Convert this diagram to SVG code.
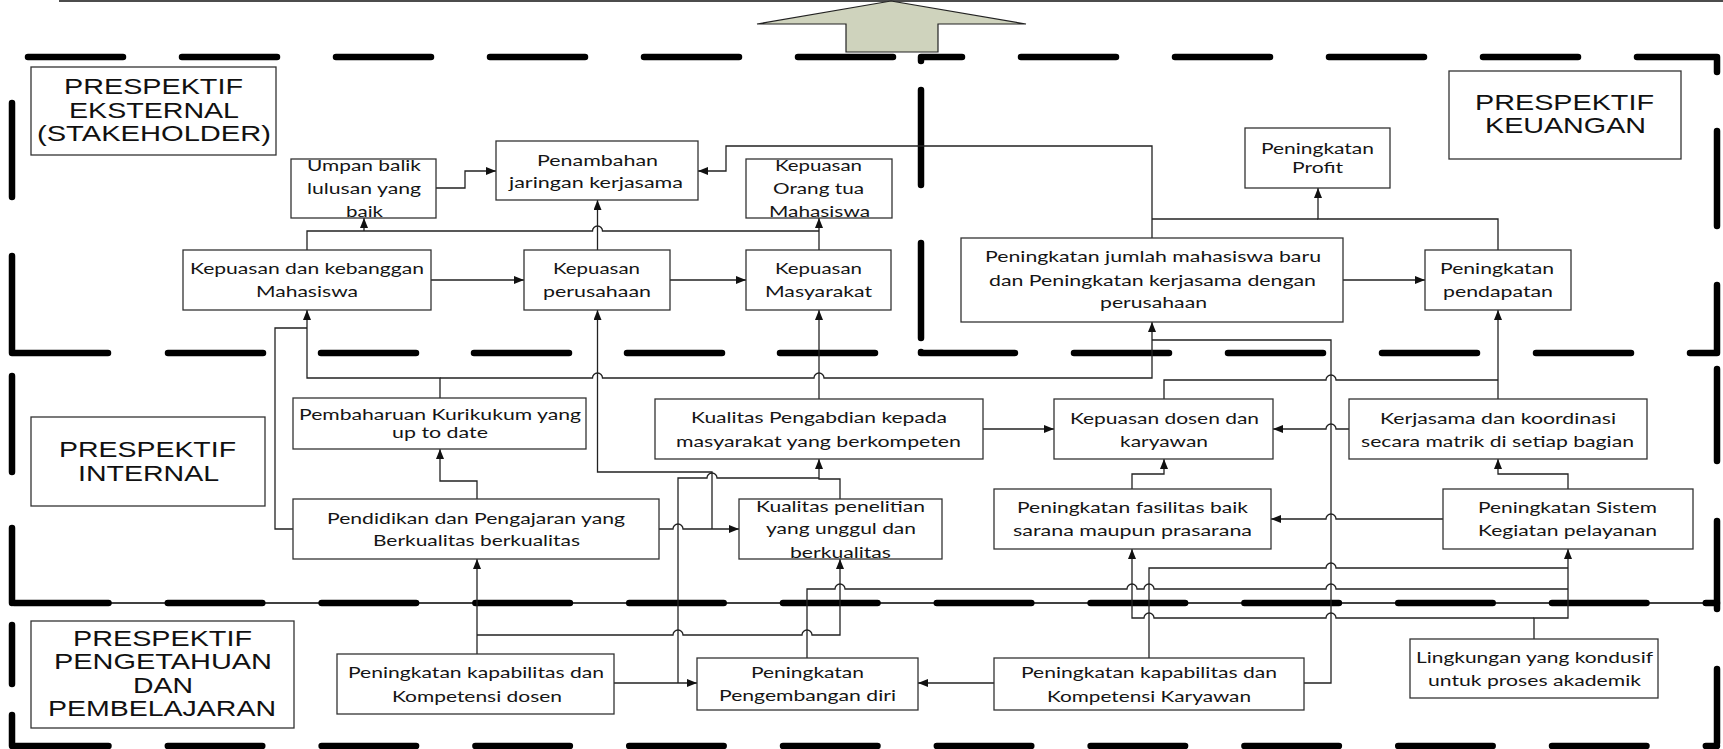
<svg xmlns="http://www.w3.org/2000/svg" width="1723" height="749" viewBox="0 0 1723 749">
  <style>
    .box { fill: none; stroke: #333; stroke-width: 1.3; }
    .t { font-family: Lato, "Liberation Sans", sans-serif; font-size: 15px; fill: #151515; }
    .L { font-family: "Liberation Sans", Arial, sans-serif; font-size: 22px; fill: #111; }
    .c { fill: none; stroke: #222; stroke-width: 1.3; }
    .a { marker-end: url(#ah); }
    .dash { fill: none; stroke: #000; stroke-width: 6.5; stroke-linecap: round; stroke-linejoin: round; }
  </style>
  <defs>
    <marker id="ah" viewBox="0 0 10 8" refX="10" refY="4" markerWidth="10" markerHeight="8" orient="auto" markerUnits="userSpaceOnUse">
      <path d="M0,0 L10,4 L0,8 z" fill="#111"/>
    </marker>
  </defs>

  <rect width="1723" height="749" fill="#fff"/>

  <!-- frame: top rule and the upward arrow -->
  <g id="header">
    <path d="M59,1 H1723" stroke="#111" stroke-width="1.3"/>
    <polygon points="891,1 1026,24 938,24 938,52 846,52 846,24 757,24" fill="#cfd3bd" stroke="#222" stroke-width="1.2"/>
  </g>

  <!-- perspective bands (thick dashed borders) -->
  <g id="bands">
    <path class="dash" d="M28,57 H900" stroke-dasharray="95 59"/>
    <path class="dash" d="M921,61 V57 H1717 V353 H921 V349" stroke-dasharray="95 59" stroke-dashoffset="50"/>
    <path class="dash" d="M921,90 V339" stroke-dasharray="95 58"/>
    <path class="dash" d="M12,103 V353 H880" stroke-dasharray="94 59 193 60 95 58 95 58 95 58 95 58 95 58 95 300"/>
    <path class="dash" d="M12,376 V603" stroke-dasharray="96 56"/>
    <path class="dash" d="M1717,369 V743" stroke-dasharray="92 60 88 60 200"/>
    <path d="M12,603 H1720" stroke="#000" stroke-width="1.4"/>
    <path class="dash" d="M14,603 H1717" stroke-dasharray="94.5 59.3"/>
    <path class="dash" d="M14,746 H1717" stroke-dasharray="94.5 59.3"/>
    <path class="dash" d="M12,625 V684"/>
    <path class="dash" d="M12,715 V746"/>
  </g>

  <!-- perspective titles -->
  <g id="lbl-eksternal">
    <rect class="box" x="31" y="67" width="245" height="88"/>
    <text class="L" x="64" y="94" textLength="179" lengthAdjust="spacingAndGlyphs">PRESPEKTIF</text>
    <text class="L" x="69" y="118" textLength="170" lengthAdjust="spacingAndGlyphs">EKSTERNAL</text>
    <text class="L" x="37" y="141" textLength="234" lengthAdjust="spacingAndGlyphs">(STAKEHOLDER)</text>
  </g>
  <g id="lbl-keuangan">
    <rect class="box" x="1449" y="71" width="232" height="88"/>
    <text class="L" x="1475" y="110" textLength="179" lengthAdjust="spacingAndGlyphs">PRESPEKTIF</text>
    <text class="L" x="1485" y="133" textLength="161" lengthAdjust="spacingAndGlyphs">KEUANGAN</text>
  </g>
  <g id="lbl-internal">
    <rect class="box" x="31" y="417" width="234" height="89"/>
    <text class="L" x="59" y="457" textLength="177" lengthAdjust="spacingAndGlyphs">PRESPEKTIF</text>
    <text class="L" x="78" y="481" textLength="141" lengthAdjust="spacingAndGlyphs">INTERNAL</text>
  </g>
  <g id="lbl-pengetahuan">
    <rect class="box" x="31" y="621" width="263" height="107"/>
    <text class="L" x="73" y="646" textLength="179" lengthAdjust="spacingAndGlyphs">PRESPEKTIF</text>
    <text class="L" x="54" y="669" textLength="218" lengthAdjust="spacingAndGlyphs">PENGETAHUAN</text>
    <text class="L" x="133" y="693" textLength="60" lengthAdjust="spacingAndGlyphs">DAN</text>
    <text class="L" x="48" y="716" textLength="228" lengthAdjust="spacingAndGlyphs">PEMBELAJARAN</text>
  </g>

  <!-- connectors -->
  <g id="connectors">
    <path class="c a" d="M436,188 H465 V171 H496"/>
    <path class="c" d="M307,250 V231 H592.5 a5,5 0 0 1 10,0 H819"/>
    <path class="c a" d="M364,231 V218"/>
    <path class="c a" d="M819,250 V218"/>
    <path class="c a" d="M431,280 H524"/>
    <path class="c a" d="M597.5,250 V200"/>
    <path class="c a" d="M670,280 H746"/>
    <path class="c a" d="M1152,238 V146 H726 V171 H698"/>
    <path class="c" d="M1152,219 H1318"/>
    <path class="c a" d="M1498,250 V219 H1318 V188"/>
    <path class="c a" d="M1343,280 H1425"/>
    <path class="c a" d="M440,398 V378 H307 V310"/>
    <path class="c a" d="M440,378 H592.5 a5,5 0 0 1 10,0 H814 a5,5 0 0 1 10,0 H1152 V322"/>
    <path class="c" d="M293,529 H275 V328 H307"/>
    <path class="c a" d="M477,499 V481 H440 V449"/>
    <path class="c a" d="M659,529 H673 a5,5 0 0 1 10,0 H739"/>
    <path class="c a" d="M712,529 V472 H597.5 V310"/>
    <path class="c a" d="M840,499 V479 H819 V459"/>
    <path class="c" d="M678,683 V478 H707 a5,5 0 0 1 10,0 H819"/>
    <path class="c a" d="M614,683 H697"/>
    <path class="c a" d="M819,399 V310"/>
    <path class="c a" d="M983,429 H1054"/>
    <path class="c" d="M1164,399 V380 H1326 a5,5 0 0 1 10,0 H1498"/>
    <path class="c a" d="M1498,399 V310"/>
    <path class="c" d="M1304,683 H1331 V340 H1152"/>
    <path class="c a" d="M1349,429 H1336 a5,5 0 0 0 -10,0 H1273"/>
    <path class="c a" d="M1132,489 V474 H1164 V459"/>
    <path class="c a" d="M1443,519 H1336 a5,5 0 0 0 -10,0 H1271"/>
    <path class="c a" d="M1568,489 V474 H1498 V459"/>
    <path class="c a" d="M1534,639 V618 H1568 V549"/>
    <path class="c a" d="M1534,618 H1336 a5,5 0 0 0 -10,0 H1154 a5,5 0 0 0 -10,0 H1132 V549"/>
    <path class="c" d="M1149,658 V568 H1326 a5,5 0 0 1 10,0 H1568"/>
    <path class="c" d="M807,658 V589 H835 a5,5 0 0 1 10,0 H1127 a5,5 0 0 1 10,0 H1144 a5,5 0 0 1 10,0 H1326 a5,5 0 0 1 10,0 H1568"/>
    <path class="c a" d="M477,654 V559"/>
    <path class="c a" d="M477,635 H673 a5,5 0 0 1 10,0 H802 a5,5 0 0 1 10,0 H840 V559"/>
    <path class="c a" d="M994,683 H918"/>
  </g>

  <!-- external perspective -->
  <g id="umpan-balik">
    <rect class="box" x="291" y="159" width="145" height="59"/>
    <text class="t" x="307" y="171" textLength="114" lengthAdjust="spacingAndGlyphs">Umpan balik</text>
    <text class="t" x="307" y="194" textLength="114" lengthAdjust="spacingAndGlyphs">lulusan yang</text>
    <text class="t" x="346" y="217" textLength="37" lengthAdjust="spacingAndGlyphs">baik</text>
  </g>
  <g id="penambahan-jaringan">
    <rect class="box" x="496" y="141" width="202" height="59"/>
    <text class="t" x="537" y="166" textLength="121" lengthAdjust="spacingAndGlyphs">Penambahan</text>
    <text class="t" x="509" y="188" textLength="174" lengthAdjust="spacingAndGlyphs">jaringan kerjasama</text>
  </g>
  <g id="kepuasan-orangtua">
    <rect class="box" x="746" y="159" width="146" height="59"/>
    <text class="t" x="775" y="171" textLength="87" lengthAdjust="spacingAndGlyphs">Kepuasan</text>
    <text class="t" x="773" y="194" textLength="91" lengthAdjust="spacingAndGlyphs">Orang tua</text>
    <text class="t" x="769" y="217" textLength="101" lengthAdjust="spacingAndGlyphs">Mahasiswa</text>
  </g>
  <g id="kepuasan-mahasiswa">
    <rect class="box" x="183" y="250" width="248" height="60"/>
    <text class="t" x="190" y="274" textLength="234" lengthAdjust="spacingAndGlyphs">Kepuasan dan kebanggan</text>
    <text class="t" x="256" y="297" textLength="102" lengthAdjust="spacingAndGlyphs">Mahasiswa</text>
  </g>
  <g id="kepuasan-perusahaan">
    <rect class="box" x="524" y="250" width="146" height="60"/>
    <text class="t" x="553" y="274" textLength="87" lengthAdjust="spacingAndGlyphs">Kepuasan</text>
    <text class="t" x="543" y="297" textLength="108" lengthAdjust="spacingAndGlyphs">perusahaan</text>
  </g>
  <g id="kepuasan-masyarakat">
    <rect class="box" x="746" y="250" width="145" height="60"/>
    <text class="t" x="775" y="274" textLength="87" lengthAdjust="spacingAndGlyphs">Kepuasan</text>
    <text class="t" x="765" y="297" textLength="107" lengthAdjust="spacingAndGlyphs">Masyarakat</text>
  </g>

  <!-- financial perspective -->
  <g id="peningkatan-profit">
    <rect class="box" x="1245" y="128" width="145" height="60"/>
    <text class="t" x="1261" y="154" textLength="113" lengthAdjust="spacingAndGlyphs">Peningkatan</text>
    <text class="t" x="1292" y="173" textLength="51" lengthAdjust="spacingAndGlyphs">Profit</text>
  </g>
  <g id="peningkatan-jumlah">
    <rect class="box" x="961" y="238" width="382" height="84"/>
    <text class="t" x="985" y="262" textLength="336" lengthAdjust="spacingAndGlyphs">Peningkatan jumlah mahasiswa baru</text>
    <text class="t" x="989" y="286" textLength="327" lengthAdjust="spacingAndGlyphs">dan Peningkatan kerjasama dengan</text>
    <text class="t" x="1100" y="308" textLength="107" lengthAdjust="spacingAndGlyphs">perusahaan</text>
  </g>
  <g id="peningkatan-pendapatan">
    <rect class="box" x="1425" y="250" width="146" height="60"/>
    <text class="t" x="1440" y="274" textLength="114" lengthAdjust="spacingAndGlyphs">Peningkatan</text>
    <text class="t" x="1443" y="297" textLength="110" lengthAdjust="spacingAndGlyphs">pendapatan</text>
  </g>

  <!-- internal perspective -->
  <g id="pembaharuan-kurikulum">
    <rect class="box" x="293" y="398" width="293" height="51"/>
    <text class="t" x="299" y="420" textLength="282" lengthAdjust="spacingAndGlyphs">Pembaharuan Kurikukum yang</text>
    <text class="t" x="392" y="438" textLength="96" lengthAdjust="spacingAndGlyphs">up to date</text>
  </g>
  <g id="kualitas-pengabdian">
    <rect class="box" x="655" y="399" width="328" height="60"/>
    <text class="t" x="691" y="423" textLength="256" lengthAdjust="spacingAndGlyphs">Kualitas Pengabdian kepada</text>
    <text class="t" x="676" y="447" textLength="285" lengthAdjust="spacingAndGlyphs">masyarakat yang berkompeten</text>
  </g>
  <g id="kepuasan-dosen">
    <rect class="box" x="1054" y="399" width="219" height="60"/>
    <text class="t" x="1070" y="424" textLength="189" lengthAdjust="spacingAndGlyphs">Kepuasan dosen dan</text>
    <text class="t" x="1120" y="447" textLength="88" lengthAdjust="spacingAndGlyphs">karyawan</text>
  </g>
  <g id="kerjasama-koordinasi">
    <rect class="box" x="1349" y="399" width="298" height="60"/>
    <text class="t" x="1380" y="424" textLength="236" lengthAdjust="spacingAndGlyphs">Kerjasama dan koordinasi</text>
    <text class="t" x="1361" y="447" textLength="273" lengthAdjust="spacingAndGlyphs">secara matrik di setiap bagian</text>
  </g>
  <g id="pendidikan-pengajaran">
    <rect class="box" x="293" y="499" width="366" height="60"/>
    <text class="t" x="327" y="524" textLength="298" lengthAdjust="spacingAndGlyphs">Pendidikan dan Pengajaran yang</text>
    <text class="t" x="373" y="546" textLength="207" lengthAdjust="spacingAndGlyphs">Berkualitas berkualitas</text>
  </g>
  <g id="kualitas-penelitian">
    <rect class="box" x="739" y="499" width="203" height="60"/>
    <text class="t" x="756" y="512" textLength="169" lengthAdjust="spacingAndGlyphs">Kualitas penelitian</text>
    <text class="t" x="766" y="534" textLength="150" lengthAdjust="spacingAndGlyphs">yang unggul dan</text>
    <text class="t" x="790" y="558" textLength="101" lengthAdjust="spacingAndGlyphs">berkualitas</text>
  </g>
  <g id="peningkatan-fasilitas">
    <rect class="box" x="994" y="489" width="277" height="60"/>
    <text class="t" x="1017" y="513" textLength="231" lengthAdjust="spacingAndGlyphs">Peningkatan fasilitas baik</text>
    <text class="t" x="1013" y="536" textLength="239" lengthAdjust="spacingAndGlyphs">sarana maupun prasarana</text>
  </g>
  <g id="peningkatan-sistem">
    <rect class="box" x="1443" y="489" width="250" height="60"/>
    <text class="t" x="1478" y="513" textLength="179" lengthAdjust="spacingAndGlyphs">Peningkatan Sistem</text>
    <text class="t" x="1478" y="536" textLength="179" lengthAdjust="spacingAndGlyphs">Kegiatan pelayanan</text>
  </g>

  <!-- learning and growth perspective -->
  <g id="kapabilitas-dosen">
    <rect class="box" x="337" y="654" width="277" height="60"/>
    <text class="t" x="348" y="678" textLength="256" lengthAdjust="spacingAndGlyphs">Peningkatan kapabilitas dan</text>
    <text class="t" x="392" y="702" textLength="170" lengthAdjust="spacingAndGlyphs">Kompetensi dosen</text>
  </g>
  <g id="pengembangan-diri">
    <rect class="box" x="697" y="658" width="221" height="52"/>
    <text class="t" x="751" y="678" textLength="113" lengthAdjust="spacingAndGlyphs">Peningkatan</text>
    <text class="t" x="719" y="701" textLength="177" lengthAdjust="spacingAndGlyphs">Pengembangan diri</text>
  </g>
  <g id="kapabilitas-karyawan">
    <rect class="box" x="994" y="658" width="310" height="52"/>
    <text class="t" x="1021" y="678" textLength="256" lengthAdjust="spacingAndGlyphs">Peningkatan kapabilitas dan</text>
    <text class="t" x="1047" y="702" textLength="204" lengthAdjust="spacingAndGlyphs">Kompetensi Karyawan</text>
  </g>
  <g id="lingkungan-kondusif">
    <rect class="box" x="1410" y="639" width="248" height="59"/>
    <text class="t" x="1416" y="663" textLength="237" lengthAdjust="spacingAndGlyphs">Lingkungan yang kondusif</text>
    <text class="t" x="1428" y="686" textLength="213" lengthAdjust="spacingAndGlyphs">untuk proses akademik</text>
  </g>
</svg>
